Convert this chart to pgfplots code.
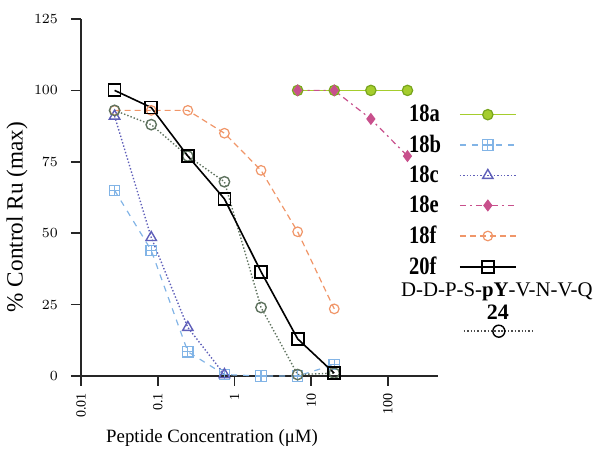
\documentclass[border=0pt]{standalone}
\usepackage{fontspec}
\setmainfont{Liberation Serif}
\newfontfamily\legfont[FakeStretch=0.82]{Liberation Serif}
\usepackage{pgfplots}
\pgfplotsset{compat=1.18}
\usetikzlibrary{plotmarks}

\definecolor{c18a}{RGB}{165,205,45}
\definecolor{c18aedge}{RGB}{120,165,30}
\definecolor{c18b}{RGB}{130,180,230}
\definecolor{c18c}{RGB}{95,95,185}
\definecolor{c18e}{RGB}{200,80,140}
\definecolor{c18f}{RGB}{240,150,105}
\definecolor{c24}{RGB}{95,115,95}

\pgfdeclareplotmark{boxplus}{%
  \pgfpathrectangle{\pgfqpoint{-\pgfplotmarksize}{-\pgfplotmarksize}}{\pgfqpoint{2\pgfplotmarksize}{2\pgfplotmarksize}}%
  \pgfpathmoveto{\pgfqpoint{-\pgfplotmarksize}{0pt}}\pgfpathlineto{\pgfqpoint{\pgfplotmarksize}{0pt}}%
  \pgfpathmoveto{\pgfqpoint{0pt}{-\pgfplotmarksize}}\pgfpathlineto{\pgfqpoint{0pt}{\pgfplotmarksize}}%
  \pgfusepathqstroke}

\pgfplotsset{
  mylegend/.style={legend image code/.code={\path (0pt,0pt); \draw[mark repeat=2,mark phase=2,##1] plot coordinates {(7pt,0pt) (21pt,0pt) (35pt,0pt)};}},
  legendtf/.style={legend image code/.code={\path (0pt,0pt); \draw[mark repeat=2,mark phase=2,##1] plot coordinates {(9pt,-21pt) (26.5pt,-21pt) (44pt,-21pt)};}},
}

\begin{document}
\begin{tikzpicture}
\path[use as bounding box] (-40.5pt,-38.5pt) rectangle (259.5pt,188pt);
\begin{axis}[
  at={(0,0)}, anchor=south west,
  scale only axis, width=178.5pt, height=178.5pt,
  xmode=log, xmin=0.01, xmax=450, ymin=0, ymax=125,
  clip=false,
  axis lines*=left,
  axis line style={line width=0.9pt, black!85},
  xtick={0.01,0.1,1,10,100}, xticklabels={0.01,0.1,1,10,100},
  ytick={0,25,50,75,100,125},
  xminorticks=false,
  tick align=outside, major tick length=5pt,
  tick style={black!85, line width=0.8pt},
  x tick label style={rotate=90, anchor=east, font=\fontsize{7}{8}\selectfont},
  y tick label style={font=\fontsize{7}{8}\selectfont, xshift=-3pt},
  xlabel={Peptide Concentration (μM)},
  ylabel={\% Control Ru (max)},
  xlabel style={at={(axis description cs:0.367,-0.174)}, anchor=center, font=\fontsize{9.4}{11}\selectfont},
  ylabel style={at={(axis description cs:-0.179,0.445)}, anchor=center, font=\fontsize{11.6}{13}\selectfont},
  legend style={at={(axis description cs:0.89,0.783)}, anchor=north west, draw=none, fill=none,
    font=\fontsize{12.5}{14}\legfont\bfseries, row sep=1.2pt},
  legend cell align=left,
  legend plot pos=right,
  mylegend,
]
% 18a
\addplot[c18a, line width=0.6pt, mark=*, mark size=2.6pt, mark options={solid, fill=c18a, draw=c18aedge}]
  coordinates {(6.667,100) (20,100) (60,100) (180,100)};
\addlegendentry{18a}
% 18b
\addplot[c18b, line width=0.6pt, dash pattern=on 3pt off 3pt, mark=boxplus, mark size=2.6pt, mark options={solid}]
  coordinates {(0.0274,65) (0.0823,44) (0.2469,8.5) (0.7407,0.5) (2.222,0) (6.667,0) (20,4)};
\addlegendentry{18b}
% 18c
\addplot[c18c, line width=0.7pt, densely dotted, mark=triangle, mark size=3pt, mark options={solid}]
  coordinates {(0.0274,91) (0.0823,48.5) (0.2469,17) (0.7407,0.5)};
\addlegendentry{18c}
% 18e
\addplot[c18e, line width=0.6pt, dash pattern=on 3pt off 2pt on 1pt off 2pt, mark=diamond*, mark size=2.6pt, mark options={solid, fill=c18e}]
  coordinates {(6.667,100) (20,100) (60,90) (180,77)};
\addlegendentry{18e}
% 18f
\addplot[c18f, line width=0.6pt, densely dashed, mark=o, mark size=2.4pt, mark options={solid}]
  coordinates {(0.0274,93) (0.0823,93) (0.2469,93) (0.7407,85) (2.222,72) (6.667,50.5) (20,23.5)};
\addlegendentry{18f}
% 24
\addplot[c24, line width=0.7pt, densely dotted, mark=o, mark size=2.6pt, mark options={solid}, forget plot]
  coordinates {(0.0274,93) (0.0823,88) (0.2469,77) (0.7407,68) (2.222,24) (6.667,0.5) (20,1)};
% 20f
\addplot[black, line width=0.8pt, mark=square, mark size=3pt, mark options={solid, line width=0.9pt}]
  coordinates {(0.0274,100) (0.0823,94) (0.2469,77) (0.7407,62) (2.222,36.5) (6.667,13) (20,1)};
\addlegendentry{20f}
% legend sample for 24
\addlegendimage{legendtf, black!70, line width=0.7pt, densely dotted, mark=o, mark size=3pt, mark options={solid, black}}
\addlegendentry{}
\node[font=\fontsize{10.4}{12}\selectfont, anchor=center] at (axis description cs:1.165,0.236) {D-D-P-S-\textbf{pY}-V-N-V-Q};
\node[font=\fontsize{11}{13}\selectfont\bfseries, anchor=center] at (axis description cs:1.168,0.18) {24};
\end{axis}
\end{tikzpicture}
\end{document}
